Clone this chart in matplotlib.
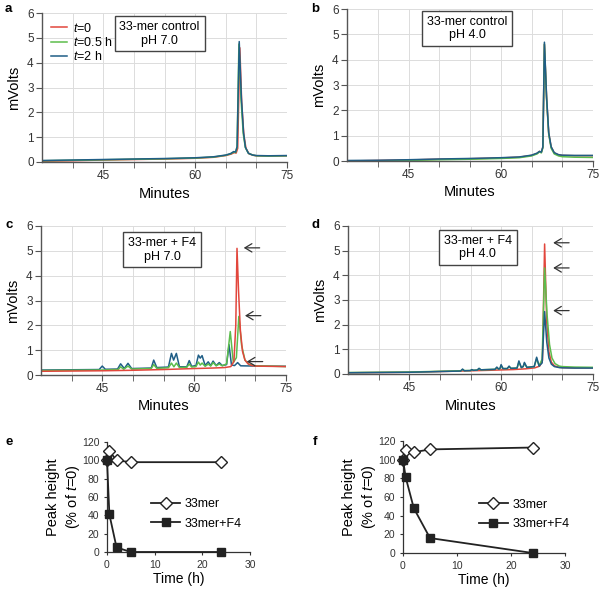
import matplotlib
matplotlib.use("Agg")
import matplotlib.pyplot as plt

plt.rcParams['font.family'] = ['Liberation Sans', 'DejaVu Sans']
plt.rcParams['mathtext.fontset'] = 'custom'
plt.rcParams['mathtext.rm'] = 'Liberation Sans'
plt.rcParams['mathtext.it'] = 'Liberation Sans:italic'

RED = '#e2463c'
GREEN = '#5cbd4c'
BLUE = '#1f5e86'

# ---- panel a: 33-mer control pH 7.0 ----
a_red_x = [35, 40, 45, 50, 55, 60, 63, 65, 65.9, 66.4, 66.7, 66.95, 67.3, 67.6, 67.95, 68.3, 68.8, 69.5, 70, 72, 75]
a_red_y = [0.03, 0.05, 0.08, 0.1, 0.12, 0.15, 0.19, 0.26, 0.32, 0.38, 0.36, 0.55, 4.6, 2.4, 1.1, 0.55, 0.33, 0.27, 0.25, 0.24, 0.25]
a_green_x = [35, 40, 45, 50, 55, 60, 63, 65, 65.8, 66.3, 66.6, 66.85, 67.15, 67.5, 67.85, 68.2, 68.7, 69.4, 70, 72, 75]
a_green_y = [0.05, 0.07, 0.09, 0.11, 0.13, 0.16, 0.2, 0.27, 0.33, 0.4, 0.38, 0.6, 4.75, 2.5, 1.15, 0.58, 0.35, 0.28, 0.25, 0.24, 0.25]
a_blue_x = [35, 40, 45, 50, 55, 60, 63, 65, 65.8, 66.3, 66.6, 66.85, 67.2, 67.55, 67.9, 68.2, 68.7, 69.4, 70, 72, 75]
a_blue_y = [0.06, 0.08, 0.1, 0.12, 0.14, 0.17, 0.21, 0.28, 0.34, 0.42, 0.4, 0.62, 4.85, 2.6, 1.2, 0.6, 0.35, 0.28, 0.26, 0.25, 0.26]

# ---- panel b: 33-mer control pH 4.0 ----
b_red_x = [35, 40, 45, 50, 55, 60, 63, 65, 65.9, 66.3, 66.6, 66.85, 67.1, 67.45, 67.8, 68.2, 68.7, 69.4, 70, 72, 75]
b_red_y = [0.0, 0.02, 0.04, 0.07, 0.09, 0.12, 0.15, 0.22, 0.3, 0.38, 0.34, 0.55, 4.6, 2.5, 1.1, 0.55, 0.32, 0.24, 0.22, 0.21, 0.21]
b_green_x = [35, 40, 45, 50, 55, 60, 63, 65, 65.9, 66.3, 66.6, 66.85, 67.1, 67.45, 67.8, 68.2, 68.7, 69.4, 70, 72, 75]
b_green_y = [-0.03, 0.0, 0.02, 0.05, 0.07, 0.1, 0.13, 0.2, 0.28, 0.36, 0.32, 0.52, 4.62, 2.45, 1.05, 0.5, 0.28, 0.2, 0.17, 0.15, 0.14]
b_blue_x = [35, 40, 45, 50, 55, 60, 63, 65, 65.9, 66.3, 66.6, 66.85, 67.1, 67.45, 67.8, 68.2, 68.7, 69.4, 70, 72, 75]
b_blue_y = [0.02, 0.03, 0.05, 0.08, 0.1, 0.13, 0.16, 0.23, 0.31, 0.38, 0.35, 0.56, 4.69, 2.55, 1.12, 0.56, 0.33, 0.25, 0.23, 0.22, 0.22]

# ---- panel c: 33-mer + F4 pH 7.0 ----
c_red_x = [35, 45, 50, 55, 60, 63, 65, 66.0, 66.5, 66.8, 67.0, 67.25, 67.55, 67.9, 68.3, 68.8, 69.4, 70, 72, 75]
c_red_y = [0.15, 0.17, 0.19, 0.22, 0.26, 0.28, 0.3, 0.34, 0.55, 2.0, 5.1, 3.4, 1.8, 0.95, 0.6, 0.45, 0.38, 0.36, 0.35, 0.34]
c_green_x = [35, 45, 47.6, 48.0, 48.5, 49.2, 49.8, 53.0, 53.4, 53.9, 55.8, 56.3, 56.7, 57.1, 57.6, 58.8, 59.2, 59.6, 60.3, 60.7, 61.0, 61.3, 61.8, 62.3, 62.7, 63.1, 63.6, 64.1, 64.6, 65.3, 65.9, 66.4, 66.9, 67.3, 67.75, 68.3, 69, 70, 75]
c_green_y = [0.18, 0.2, 0.22, 0.33, 0.23, 0.36, 0.24, 0.26, 0.42, 0.27, 0.29, 0.48, 0.33, 0.48, 0.3, 0.31, 0.44, 0.32, 0.34, 0.52, 0.4, 0.48, 0.35, 0.44, 0.36, 0.5, 0.37, 0.44, 0.37, 0.45, 1.75, 0.5, 0.7, 2.36, 1.2, 0.6, 0.42, 0.37, 0.34]
c_blue_x = [35, 44.5, 45, 45.5, 47.5, 48.0, 48.6, 49.2, 49.8, 53.0, 53.4, 53.9, 55.8, 56.3, 56.65, 57.1, 57.6, 58.8, 59.2, 59.6, 60.3, 60.7, 61.0, 61.3, 61.8, 62.3, 62.7, 63.1, 63.6, 64.1, 64.6, 65.3, 65.7, 66.1, 66.6, 67.1, 67.6, 70, 75]
c_blue_y = [0.2, 0.22, 0.36, 0.23, 0.24, 0.45, 0.26, 0.47, 0.26, 0.28, 0.6, 0.3, 0.32, 0.87, 0.6, 0.87, 0.33, 0.33, 0.58, 0.35, 0.38, 0.8, 0.68, 0.78, 0.38, 0.53, 0.38, 0.56, 0.38, 0.5, 0.38, 0.42, 1.22, 0.4, 0.38, 0.5, 0.37, 0.36, 0.35]

# ---- panel d: 33-mer + F4 pH 4.0 ----
d_red_x = [35, 45, 50, 55, 58, 62, 64, 65.5, 66.3, 66.75, 67.1, 67.45, 67.8, 68.2, 68.7, 69.5, 70, 72, 75]
d_red_y = [0.05, 0.07, 0.1, 0.13, 0.15, 0.18, 0.21, 0.25, 0.32, 0.55, 5.27, 2.1, 0.9, 0.48, 0.33, 0.27, 0.26, 0.25, 0.25]
d_green_x = [35, 45, 50, 53.4, 53.7, 54.0, 55.0, 55.2, 55.5, 56.1, 56.4, 56.7, 59.0, 59.3, 59.6, 59.8, 60.0, 60.3, 61.0, 61.3, 61.6, 62.6, 62.9, 63.3, 63.6, 63.8, 64.2, 65.4, 65.8, 66.2, 66.7, 67.1, 67.5, 67.9, 68.3, 68.8, 69.5, 70, 72, 75]
d_green_y = [0.06, 0.08, 0.11, 0.13, 0.18, 0.14, 0.14, 0.17, 0.15, 0.16, 0.22, 0.17, 0.19, 0.26, 0.2, 0.22, 0.34, 0.22, 0.22, 0.3, 0.23, 0.24, 0.48, 0.26, 0.3, 0.43, 0.27, 0.3, 0.62, 0.34, 0.6, 4.3, 2.4, 1.2, 0.65, 0.42, 0.32, 0.3, 0.28, 0.27]
d_blue_x = [35, 45, 50, 53.4, 53.7, 54.0, 55.0, 55.2, 55.5, 56.1, 56.4, 56.7, 59.0, 59.3, 59.6, 59.8, 60.0, 60.3, 61.0, 61.3, 61.6, 62.6, 62.9, 63.3, 63.6, 63.8, 64.2, 65.4, 65.8, 66.2, 66.7, 67.1, 67.45, 67.8, 68.2, 68.7, 69.5, 70, 72, 75]
d_blue_y = [0.05, 0.07, 0.1, 0.12, 0.2, 0.13, 0.14, 0.18, 0.15, 0.16, 0.23, 0.17, 0.19, 0.28, 0.2, 0.22, 0.38, 0.22, 0.22, 0.32, 0.23, 0.24, 0.53, 0.26, 0.3, 0.47, 0.27, 0.3, 0.68, 0.32, 0.45, 2.53, 1.3, 0.65, 0.4, 0.3, 0.26, 0.25, 0.24, 0.24]

# arrows (tip x, tip y) marking the 33-mer peak
c_arrow_x = [68.1, 68.3, 68.6]
c_arrow_y = [5.12, 2.39, 0.54]
d_arrow_x = [68.5, 68.5, 68.5]
d_arrow_y = [5.32, 4.3, 2.57]

# ---- panels e, f: peak height vs time ----
times = [0, 0.5, 2, 5, 24]
e_33mer = [100, 110, 100, 98, 98]
e_33mer_f4 = [100, 41, 5, 0, 0]
f_33mer = [100, 110, 108, 111, 113]
f_33mer_f4 = [100, 81, 48, 16, 0]

W, H = 601, 593
fig = plt.figure(figsize=(W / 100, H / 100), dpi=100)


def add_ax(left, top, right, bottom):
    return fig.add_axes([left / W, 1 - bottom / H, (right - left) / W, (bottom - top) / H])


def chrom_axes(ax):
    ax.set_xlim(35, 75)
    ax.set_ylim(0, 6)
    ax.set_xticks([45, 60, 75])
    ax.set_xticks([40, 50, 55, 65, 70], minor=True)
    ax.set_yticks(range(7))
    ax.grid(True, which='both', color='#dcdcdc', lw=0.7)
    ax.set_axisbelow(True)
    for s in ['top', 'right']:
        ax.spines[s].set_visible(False)
    for s in ['left', 'bottom']:
        ax.spines[s].set_color('#555555')
        ax.spines[s].set_linewidth(1.0)
    ax.tick_params(which='both', direction='out', length=4, color='#555555',
                   labelsize=8.5, labelcolor='#333333', pad=2)
    ax.set_xlabel('Minutes', fontsize=10.5, labelpad=3)
    ax.set_ylabel('mVolts', fontsize=10.5, labelpad=4)


def box(ax, x, y, txt):
    ax.text(x, y, txt, transform=ax.transAxes, ha='center', va='center', fontsize=9,
            linespacing=1.15,
            bbox=dict(boxstyle='square,pad=0.38', fc='white', ec='#444444', lw=1.0))


def arrows(ax, xs, ys, length):
    for x, y in zip(xs, ys):
        ax.annotate('', xy=(x, y), xytext=(x + length, y),
                    arrowprops=dict(arrowstyle='->,head_length=0.5,head_width=0.3',
                                    color='#333333', lw=0.9, shrinkA=0, shrinkB=0))


lw = 1.1
ax_a = add_ax(42, 13, 287, 162)
chrom_axes(ax_a)
ax_a.plot(a_red_x, a_red_y, color=RED, lw=lw, label='$t$=0')
ax_a.plot(a_green_x, a_green_y, color=GREEN, lw=lw, label='$t$=0.5 h')
ax_a.plot(a_blue_x, a_blue_y, color=BLUE, lw=lw, label='$t$=2 h')
ax_a.legend(loc='upper left', bbox_to_anchor=(0.0, 1.0), frameon=False, fontsize=9,
            handlelength=1.3, handletextpad=0.45, labelspacing=0.1, borderaxespad=0.3)
box(ax_a, 0.48, 0.86, '33-mer control\npH 7.0')

ax_b = add_ax(347, 9, 593, 161)
chrom_axes(ax_b)
ax_b.plot(b_red_x, b_red_y, color=RED, lw=lw)
ax_b.plot(b_green_x, b_green_y, color=GREEN, lw=lw)
ax_b.plot(b_blue_x, b_blue_y, color=BLUE, lw=lw)
box(ax_b, 0.488, 0.87, '33-mer control\npH 4.0')

ax_c = add_ax(41, 226, 286, 375)
chrom_axes(ax_c)
ax_c.plot(c_blue_x, c_blue_y, color=BLUE, lw=lw)
ax_c.plot(c_green_x, c_green_y, color=GREEN, lw=lw)
ax_c.plot(c_red_x, c_red_y, color=RED, lw=lw)
box(ax_c, 0.494, 0.84, '33-mer + F4\npH 7.0')
arrows(ax_c, c_arrow_x, c_arrow_y, 2.6)

ax_d = add_ax(348, 226, 593, 374)
chrom_axes(ax_d)
ax_d.plot(d_red_x, d_red_y, color=RED, lw=lw)
ax_d.plot(d_green_x, d_green_y, color=GREEN, lw=lw)
ax_d.plot(d_blue_x, d_blue_y, color=BLUE, lw=lw)
box(ax_d, 0.53, 0.855, '33-mer + F4\npH 4.0')
arrows(ax_d, d_arrow_x, d_arrow_y, 2.6)


def time_axes(ax, a, b, legx):
    ax.plot(times, a, color='#222222', lw=1.3, marker='D', ms=6, mfc='white',
            mec='#222222', mew=1.0, label='33mer', clip_on=False, zorder=3)
    ax.plot(times, b, color='#222222', lw=1.3, marker='s', ms=5.5, mfc='#222222',
            mec='#222222', label='33mer+F4', clip_on=False, zorder=4)
    ax.set_xlim(0, 30)
    ax.set_ylim(0, 120)
    ax.set_xticks([0, 10, 20, 30])
    ax.set_yticks(range(0, 121, 20))
    for s in ['top', 'right']:
        ax.spines[s].set_visible(False)
    for s in ['left', 'bottom']:
        ax.spines[s].set_color('#333333')
        ax.spines[s].set_linewidth(0.9)
    ax.tick_params(direction='out', length=2.5, color='#333333', labelsize=7.5,
                   labelcolor='#333333', pad=3)
    ax.set_xlabel('Time (h)', fontsize=10, labelpad=2)
    ax.set_ylabel('Peak height\n(% of $t$=0)', fontsize=10.5, labelpad=0, linespacing=1.3)
    ax.legend(loc='center left', bbox_to_anchor=(legx, 0.345), frameon=False, fontsize=9,
              handlelength=2.3, handletextpad=0.4, labelspacing=0.6)


ax_e = add_ax(107, 442, 250, 552)
time_axes(ax_e, e_33mer, e_33mer_f4, 0.23)
ax_f = add_ax(403, 441, 565, 553)
time_axes(ax_f, f_33mer, f_33mer_f4, 0.4)

for lab, x, y in [('a', 5, 3), ('b', 311, 3), ('c', 5, 219), ('d', 311, 219), ('e', 5, 436), ('f', 313, 436)]:
    fig.text(x / W, 1 - y / H, lab, fontsize=9.5, fontweight='bold', va='top', ha='left')

fig.savefig('out.png', dpi=100)
